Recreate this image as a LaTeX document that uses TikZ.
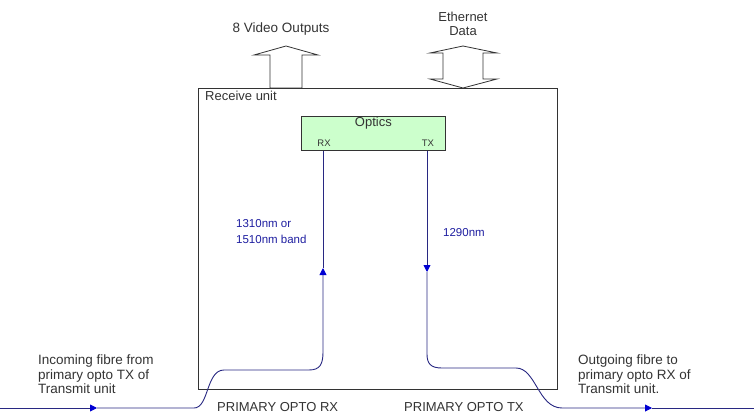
\documentclass[tikz,border=0pt]{standalone}
\usepackage{fontspec}
\setmainfont{Liberation Sans}
\usetikzlibrary{arrows.meta, positioning, calc}
\definecolor{fibreblue}{RGB}{40,40,130}
\definecolor{tipblue}{RGB}{0,0,210}
\definecolor{labelblue}{RGB}{30,30,160}
\definecolor{opticsgreen}{RGB}{204,255,204}

\begin{document}
\begin{tikzpicture}[x=1pt, y=-1pt,
  font=\fontsize{13}{14.5}\selectfont,
  unit/.style={draw=black!80, line width=0.8pt, minimum width=359pt, minimum height=301pt, inner sep=0pt},
  optics/.style={draw=black!80, fill=opticsgreen, line width=0.8pt, minimum width=144pt, minimum height=34pt, inner sep=0pt},
  txt/.style={inner sep=0pt, text=black!80},
  note/.style={txt, align=left, font=\fontsize{13.5}{14.5}\selectfont},
  wave/.style={txt, text=labelblue, align=left, font=\fontsize{11.5}{16}\selectfont},
  pin/.style={txt, font=\fontsize{9.5}{11}\selectfont},
  fibre/.style={draw=fibreblue, line width=0.9pt},
  tip/.style={-{Triangle[length=7pt, width=7pt, color=tipblue]}},
  block/.style={draw=black!80, fill=white, line width=0.8pt}]
  \useasboundingbox (0,0) rectangle (754,414);
  \node[unit, anchor=north west] (unit) at (198,88) {};
  \node[txt, anchor=north west] (unit label) at ($(unit.north west)+(7,3)$) {Receive unit};
  \node[optics, anchor=north west] (optics) at (301,116) {};
  \node[txt] (optics label) at ($(optics.north)+(0,7)$) {Optics};
  \node[pin] (rx) at (324,143) {RX};
  \node[pin] (tx) at (428,143) {TX};
  \coordinate (rx port) at (optics.south -| 323,0);
  \coordinate (tx port) at (optics.south -| 427,0);

  \draw[block] (270,88) -- (270,55) -- (254,55) -- (286,46) -- (318,55) -- (302,55) -- (302,88) -- cycle;
  \draw[block] (443,53) -- (430,53) -- (463,46) -- (497,53) -- (483,53) -- (483,79) -- (497,79) -- (463,88) -- (430,79) -- (443,79) -- cycle;
  \node[txt, font=\fontsize{13.5}{14}\selectfont] (video label) at (281,29) {8 Video Outputs};
  \node[txt, align=center, font=\fontsize{13}{13.5}\selectfont] (ethernet label) at (463,24) {Ethernet\\Data};

  \coordinate (fibre in) at (0,408);
  \coordinate (in mark) at (97,408);
  \coordinate (rx mark) at (323,268);
  \coordinate (tx mark) at (427,272);
  \coordinate (out mark) at (652,408);
  \coordinate (fibre out) at (754,408);
  \draw[fibre, tip] (fibre in) -- (in mark);
  \draw[fibre, tip] (in mark) -- (194,408) .. controls (209,408) and (206,370) .. (224,370) -- (309,370) .. controls (320,370) and (323,364) .. (323,352) -- (rx mark);
  \draw[fibre] (rx mark) -- (rx port);
  \draw[fibre, tip] (tx port) -- (tx mark);
  \draw[fibre, tip] (tx mark) -- (427,354) .. controls (427,364) and (431,368) .. (442,368) -- (516,368) .. controls (536,368) and (538,408) .. (562,408) -- (out mark);
  \draw[fibre] (out mark) -- (fibre out);

  \node[wave, anchor=west] (rx band) at (236,232) {1310nm  or\\1510nm band};
  \node[wave, anchor=west] (tx band) at (443,233) {1290nm};
  \node[note, anchor=north west] (in note) at (38,355) {Incoming fibre from\\primary opto TX of\\Transmit unit};
  \node[note, anchor=north west] (out note) at (578,355) {Outgoing fibre to\\primary opto RX of\\Transmit unit.};
  \node[txt, anchor=west] (rx name) at (217,407) {PRIMARY OPTO RX};
  \node[txt, anchor=west] (tx name) at (404,407) {PRIMARY OPTO TX};
\end{tikzpicture}
\end{document}
